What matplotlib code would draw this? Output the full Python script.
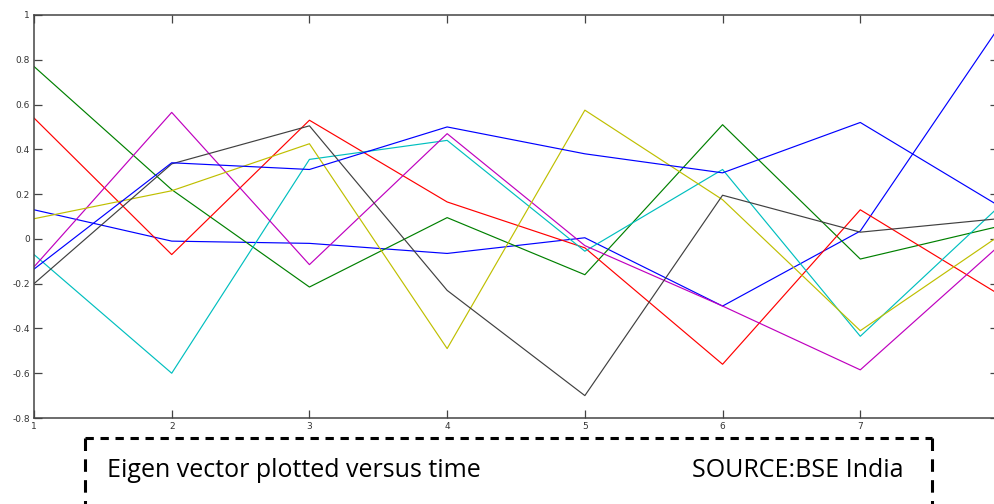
import numpy as np
import matplotlib.pyplot as plt
from matplotlib.lines import Line2D

# time steps and the eigen vector components
time = [1, 2, 3, 4, 5, 6, 7, 8]
xtick_labels = ['1', '2', '3', '4', '5', '6', '7', '']  # the "8" falls outside the frame
blue_a = [0.13, -0.01, -0.02, -0.065, 0.005, -0.30, 0.035, 0.94]
green = [0.77, 0.22, -0.215, 0.095, -0.16, 0.51, -0.09, 0.055]
red = [0.54, -0.07, 0.53, 0.165, -0.04, -0.56, 0.13, -0.245]
cyan = [-0.07, -0.60, 0.355, 0.44, -0.055, 0.31, -0.435, 0.14]
magenta = [-0.125, 0.565, -0.115, 0.47, -0.03, -0.30, -0.585, -0.035]
yellow = [0.09, 0.215, 0.425, -0.49, 0.575, 0.175, -0.41, 0.01]
black = [-0.20, 0.335, 0.505, -0.23, -0.70, 0.195, 0.03, 0.09]
blue_b = [-0.135, 0.34, 0.31, 0.50, 0.38, 0.295, 0.52, 0.15]

series = [blue_a, green, red, cyan, magenta, yellow, black, blue_b]
colors = ['#0000ff', '#008000', '#ff0000', '#00bfbf', '#bf00bf', '#bfbf00', '#404040', '#0000ff']

yticks = [-0.8, -0.6, -0.4, -0.2, 0, 0.2, 0.4, 0.6, 0.8, 1]
ytick_labels = ['-0.8', '-0.6', '-0.4', '-0.2', '0', '0.2', '0.4', '0.6', '0.8', '1']

W, H = 995, 504
fig = plt.figure(figsize=(W / 100, H / 100), dpi=100)

# axes box in pixels: left 34, right 998, top 15, bottom 418
ax = fig.add_axes([34 / W, 1 - 418 / H, (998 - 34) / W, (418 - 15) / H])
for vals, col in zip(series, colors):
    ax.plot(time, vals, color=col, linewidth=0.85)

ax.set_xlim(1, 8)
ax.set_ylim(-0.8, 1)
ax.set_xticks(time)
ax.set_xticklabels(xtick_labels)
ax.set_yticks(yticks)
ax.set_yticklabels(ytick_labels)
ax.tick_params(direction='in', length=6, width=0.9, color='#444444',
               top=True, right=True, labelsize=6.5, labelcolor='#333333', pad=3)
for sp in ax.spines.values():
    sp.set_color('#444444')
    sp.set_linewidth(1.1)

# dashed caption box, cut off at the bottom edge
plt.rcParams['lines.scale_dashes'] = False
x0, x1, ytop = 85 / W, 932 / W, 1 - 438 / H
fig.add_artist(Line2D([x0, x1], [ytop, ytop], transform=fig.transFigure,
                      color='black', linewidth=2.2, linestyle=(0, (6, 4.8))))
fig.add_artist(Line2D([x0, x0], [ytop, -0.05], transform=fig.transFigure,
                      color='black', linewidth=2.2, linestyle=(0, (9, 6))))
fig.add_artist(Line2D([x1, x1], [ytop, -0.05], transform=fig.transFigure,
                      color='black', linewidth=2.2, linestyle=(0, (9, 6))))

fig.text(107 / W, 1 - 477 / H, 'Eigen vector plotted versus time',
         family='Open Sans', fontsize=18, va='baseline', ha='left')
fig.text(904 / W, 1 - 477 / H, 'SOURCE:BSE India',
         family='Open Sans', fontsize=18, va='baseline', ha='right')

fig.savefig('out.png', dpi=100)
